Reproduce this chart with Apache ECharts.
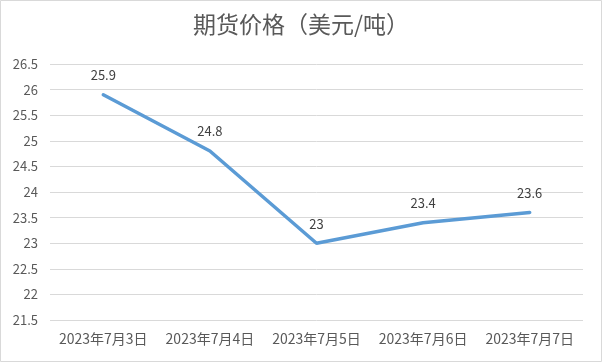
<!DOCTYPE html>
<html><head><meta charset="utf-8">
<script src="https://cdn.jsdelivr.net/npm/echarts@6/dist/echarts.min.js"></script>
<style>html,body{margin:0;padding:0;background:#fff}#c{width:602px;height:362px}</style>
</head><body><div id="c"></div>
<script>
const titleText = '期货价格（美元/吨）';
const categories = ['2023年7月3日','2023年7月4日','2023年7月5日','2023年7月6日','2023年7月7日'];
const prices = [25.9, 24.8, 23, 23.4, 23.6];
const yMin = 21.5, yMax = 26.5, yStep = 0.5;

const chart = echarts.init(document.getElementById('c'));
const font = '"Noto Sans CJK SC", "Microsoft YaHei", sans-serif';
chart.setOption({
  animation: false,
  backgroundColor: '#fff',
  textStyle: {fontFamily: font},
  graphic: [{type:'rect', shape:{x:0.5,y:0.5,width:601,height:361}, style:{fill:'none', stroke:'#d9d9d9', lineWidth:1}, silent:true}],
  title: {text: titleText, left: 'center', top: 8, textStyle:{fontSize:23, fontWeight:'normal', color:'#595959', fontFamily: font}},
  grid: {left: 50, right: 19, top: 64, bottom: 42},
  xAxis: {type:'category', data: categories, boundaryGap: true,
    axisLine:{show:false}, axisTick:{show:false},
    axisLabel:{color:'#595959', fontSize:14, margin:12, interval:0, hideOverlap:false, fontFamily: font}},
  yAxis: {type:'value', min: yMin, max: yMax, interval: yStep,
    axisLine:{show:false}, axisTick:{show:false},
    splitLine:{lineStyle:{color:'#d9d9d9', width:1}},
    axisLabel:{color:'#595959', fontSize:13, margin:12, fontFamily: font, formatter: v => String(+v.toFixed(1))}},
  series: [{type:'line', data: prices, symbol:'circle', symbolSize:2, itemStyle:{color:'rgba(0,0,0,0)', borderWidth:0},
    lineStyle:{color:'#5B9BD5', width:3.5, cap:'round'},
    label:{show:true, position:'top', distance:12, color:'#404040', fontSize:13, fontFamily: font}}]
});
</script></body></html>
